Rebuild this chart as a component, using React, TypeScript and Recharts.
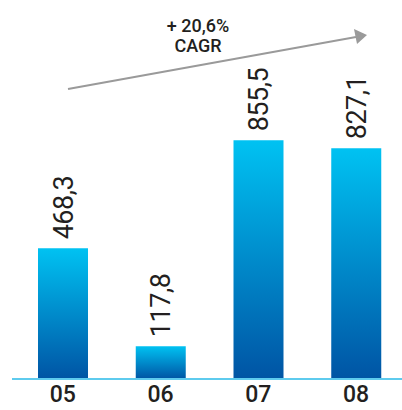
import React from "react";
import { BarChart, Bar, XAxis, YAxis, LabelList, Customized } from "recharts";

// Years and the value per year
const years = ["05", "06", "07", "08"];
const values = [468.3, 117.8, 855.5, 827.1];

const growthLine1 = "+ 20,6%";
const growthLine2 = "CAGR";

const data = years.map((year, i) => ({ year, value: values[i] }));

const FONT = 'Roboto, "Liberation Sans", sans-serif';
const TEXT = "#231f20";

const fmt = (v: number) => v.toFixed(1).replace(".", ",");

// Rotated value label sitting just above each bar
const ValueLabel = (props: any) => {
  const { x, y, width, value } = props;
  const cx = x + width / 2;
  const cy = y - 9;
  return (
    <text
      x={cx}
      y={cy}
      dy="0.36em"
      transform={`rotate(-90, ${cx}, ${cy})`}
      textAnchor="start"
      fontFamily={FONT}
      fontWeight={400}
      fontSize={27}
      letterSpacing={-0.5}
      fill={TEXT}
    >
      {fmt(Number(value))}
    </text>
  );
};

// Growth arrow with its caption across the top of the chart
const GrowthArrow = () => (
  <g>
    <line x1={68} y1={89} x2={356} y2={37} stroke="#9a9a9a" strokeWidth={2} />
    <polygon points="367,35 354,29 357,44" fill="#9a9a9a" />
    <text x={198} y={32} textAnchor="middle" fontFamily={FONT} fontWeight={500} fontSize={18} fill={TEXT}>
      {growthLine1}
    </text>
    <text x={198} y={52} textAnchor="middle" fontFamily={FONT} fontWeight={500} fontSize={18} fill={TEXT}>
      {growthLine2}
    </text>
  </g>
);

export default function App() {
  return (
    <div style={{ position: "absolute", left: 0, top: 0, width: 402, height: 410, background: "#fff" }}>
      <BarChart
        width={402}
        height={410}
        data={data}
        margin={{ top: 100, right: -3, bottom: 0, left: 12 }}
      >
        <defs>
          <linearGradient id="barFill" x1="0" y1="0" x2="0" y2="1">
            <stop offset="0%" stopColor="#00c2f2" />
            <stop offset="100%" stopColor="#0054a4" />
          </linearGradient>
        </defs>
        <YAxis hide domain={[0, 1000]} />
        <XAxis
          dataKey="year"
          height={31}
          padding={{ left: 2, right: 0 }}
          axisLine={{ stroke: "#5ecbee", strokeWidth: 2 }}
          tickLine={false}
          tickSize={0}
          tickMargin={7}
          tick={{ fontFamily: FONT, fontWeight: 500, fontSize: 23, fill: TEXT }}
        />
        <Bar dataKey="value" fill="url(#barFill)" barSize={50} isAnimationActive={false}>
          <LabelList dataKey="value" content={ValueLabel} />
        </Bar>
        <Customized component={GrowthArrow} />
      </BarChart>
    </div>
  );
}
